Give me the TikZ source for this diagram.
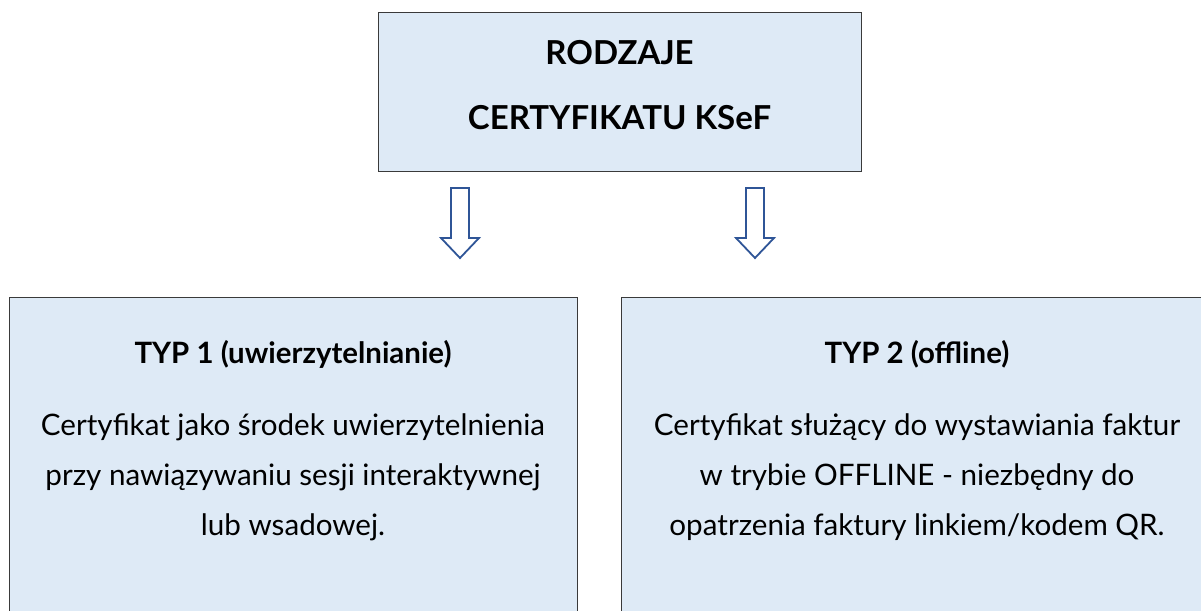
\documentclass[tikz,border=0pt]{standalone}
\usepackage{fontspec}
\setmainfont{Lato}
\definecolor{boxfill}{HTML}{DEEAF6}
\definecolor{boxline}{HTML}{3A3A3A}
\definecolor{arrowline}{HTML}{2F5597}
\tikzset{
  box/.style={draw=boxline, line width=1pt, fill=boxfill},
  blockarrow/.style={draw=arrowline, line width=1.8pt, fill=white, line join=miter},
  ttl/.style={font=\fontsize{33}{40}\selectfont\bfseries, anchor=base},
  sub/.style={font=\fontsize{29.4}{35}\selectfont\bfseries, anchor=base},
  body/.style={font=\fontsize{29.6}{35}\selectfont, anchor=base}
}
\newcommand{\downblock}[2]{%
  \coordinate (#1) at (#2,188);
  \draw[blockarrow] ($(#1)+(-9,0)$) -- ($(#1)+(9,0)$) -- ($(#1)+(9,50)$) -- ($(#1)+(19,50)$)
    -- ($(#1)+(0,70)$) -- ($(#1)+(-19,50)$) -- ($(#1)+(-9,50)$) -- cycle;}
\usetikzlibrary{calc}
\begin{document}
\begin{tikzpicture}[x=1pt,y=-1pt]
\useasboundingbox (0,0) rectangle (1201,610);
\begin{scope}
\clip (0,0) rectangle (1201,610);
\draw[box] (378,13) rectangle (861,171);
\draw[box] (9,297) rectangle (577,640);
\draw[box] (621,297) rectangle (1230,640);
\end{scope}
\node[ttl] (t1) at (619.5,64) {RODZAJE};
\node[ttl] (t2) at (619.5,129) {CERTYFIKATU KSeF};
\downblock{a1}{460}
\downblock{a2}{755}
\node[sub] (h1) at (293,363) {TYP 1 (uwierzytelnianie)};
\node[body] (b11) at (293,435) {Certyfikat jako środek uwierzytelnienia};
\node[body] (b12) at (293,485) {przy nawiązywaniu sesji interaktywnej};
\node[body] (b13) at (293,535) {lub wsadowej.};
\node[sub] (h2) at (917,363) {TYP 2 (offline)};
\node[body] (b21) at (917,435) {Certyfikat służący do wystawiania faktur};
\node[body] (b22) at (917,485) {w trybie OFFLINE - niezbędny do};
\node[body] (b23) at (917,535) {opatrzenia faktury linkiem/kodem QR.};
\end{tikzpicture}
\end{document}
